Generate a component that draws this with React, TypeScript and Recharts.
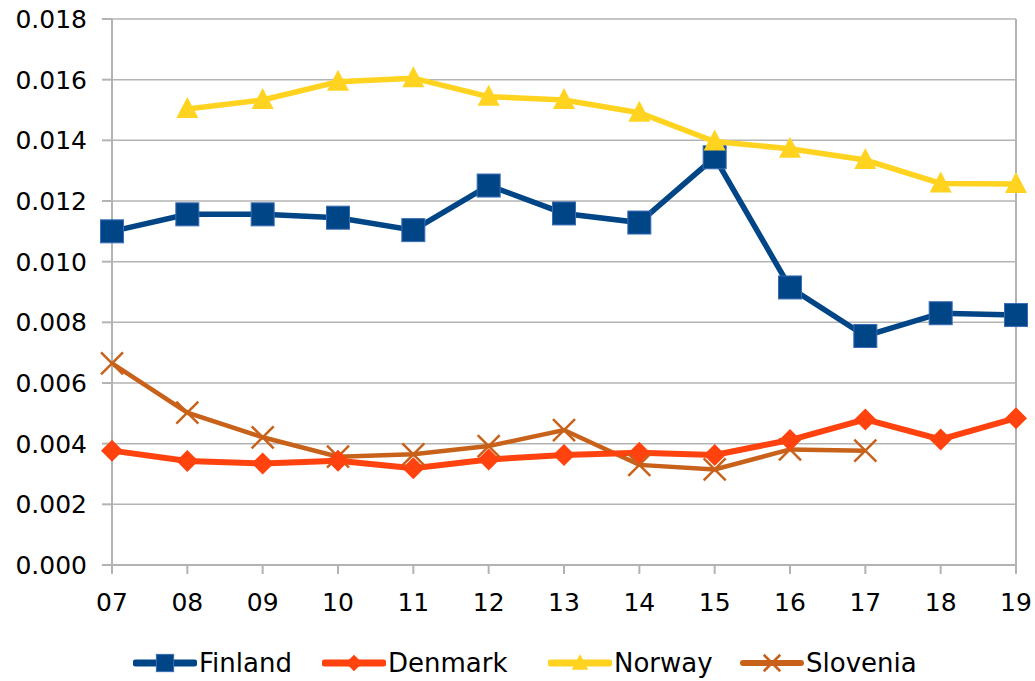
import React from "react";
import {
  LineChart,
  CartesianGrid,
  YAxis,
  XAxis,
  Legend,
  Line,
  ReferenceLine
} from "recharts";

const years = ["07", "08", "09", "10", "11", "12", "13", "14", "15", "16", "17", "18", "19"];
const finland = [0.0110, 0.01156, 0.01156, 0.01145, 0.01104, 0.01251, 0.01159, 0.01129, 0.01344, 0.00915, 0.00755, 0.0083, 0.00824];
const denmark = [0.00377, 0.00343, 0.00335, 0.00344, 0.00319, 0.00348, 0.00363, 0.0037, 0.00363, 0.00412, 0.0048, 0.00414, 0.00484];
const norway = [null, 0.01503, 0.01533, 0.01593, 0.01605, 0.01544, 0.01533, 0.01491, 0.01396, 0.01372, 0.01335, 0.01258, 0.01256];
const slovenia = [0.00665, 0.00502, 0.00421, 0.00357, 0.00365, 0.00392, 0.00445, 0.0033, 0.00315, 0.00381, 0.00377, null, null];
const yTicks = [0, 0.002, 0.004, 0.006, 0.008, 0.01, 0.012, 0.014, 0.016, 0.018];

const data = years.map((y, i) => ({
  year: y,
  finland: finland[i],
  denmark: denmark[i],
  norway: norway[i],
  slovenia: slovenia[i]
}));

const FONT = "'DejaVu Sans', sans-serif";
const GRID = "#b3b3b3";

const colors = {
  finland: "#004586",
  denmark: "#ff420e",
  norway: "#ffd320",
  slovenia: "#c8611a"
};

type Shape = "square" | "diamond" | "triangle" | "cross";

function marker(shape: Shape, cx: number, cy: number, color: string, s = 1) {
  if (shape === "square") {
    const h = 11.5 * s;
    return <rect x={cx - h} y={cy - h} width={h * 2} height={h * 2} fill={color} stroke="#3a6cb5" strokeWidth={1} />;
  }
  if (shape === "diamond") {
    const h = 11 * s;
    return <polygon points={`${cx},${cy - h} ${cx + h},${cy} ${cx},${cy + h} ${cx - h},${cy}`} fill={color} />;
  }
  if (shape === "triangle") {
    return (
      <polygon
        points={`${cx},${cy - 12 * s} ${cx + 11 * s},${cy + 9 * s} ${cx - 11 * s},${cy + 9 * s}`}
        fill={color}
      />
    );
  }
  const h = 11 * s;
  return (
    <g stroke={color} strokeWidth={2.5}>
      <line x1={cx - h} y1={cy - h} x2={cx + h} y2={cy + h} />
      <line x1={cx - h} y1={cy + h} x2={cx + h} y2={cy - h} />
    </g>
  );
}

const makeDot = (shape: Shape, color: string) => (props: any) => {
  const { cx, cy, index } = props;
  if (cx == null || cy == null || isNaN(cx) || isNaN(cy)) return <g key={`d-${shape}-${index}`} />;
  return <g key={`d-${shape}-${index}`}>{marker(shape, cx, cy, color)}</g>;
};

const legendItems: { name: string; color: string; shape: Shape; width: number; box: number }[] = [
  { name: "Finland", color: colors.finland, shape: "square", width: 5, box: 189 },
  { name: "Denmark", color: colors.denmark, shape: "diamond", width: 5, box: 226 },
  { name: "Norway", color: colors.norway, shape: "triangle", width: 5, box: 192 },
  { name: "Slovenia", color: colors.slovenia, shape: "cross", width: 4, box: 200 }
];

const renderLegend = () => (
  <div
    style={{
      height: 66,
      boxSizing: "border-box",
      paddingTop: 34,
      paddingLeft: 133,
      display: "flex",
      fontFamily: FONT,
      fontSize: 26,
      color: "#000"
    }}
  >
    {legendItems.map(item => (
      <div key={item.name} style={{ display: "flex", alignItems: "center", height: 28, width: item.box, flex: "none" }}>
        <svg width={64} height={28}>
          <line x1={3} y1={14} x2={61} y2={14} stroke={item.color} strokeWidth={item.width + 2} strokeLinecap="round" />
          {marker(item.shape, 32, 14, item.color, 0.75)}
        </svg>
        <span style={{ marginLeft: 2, lineHeight: "28px", whiteSpace: "nowrap" }}>{item.name}</span>
      </div>
    ))}
  </div>
);

function App() {
  return (
    <div style={{ position: "absolute", left: 0, top: 0, background: "#fff" }}>
      <LineChart
        width={1035}
        height={681}
        data={data}
        margin={{ top: 19, right: 19, left: 0, bottom: 0 }}
      >
        <CartesianGrid vertical={false} stroke={GRID} strokeWidth={1.5} />
        <XAxis
          dataKey="year"
          height={50}
          interval={0}
          padding={{ left: 0, right: 0 }}
          stroke={GRID}
          strokeWidth={2}
          tickSize={9}
          tickMargin={19}
          tick={{ fill: "#000", fontSize: 25, fontFamily: FONT }}
        />
        <YAxis
          width={112}
          domain={[0, 0.018]}
          ticks={yTicks}
          interval={0}
          stroke={GRID}
          strokeWidth={2}
          tickSize={10}
          tickMargin={15}
          tickFormatter={(v: number) => v.toFixed(3)}
          tick={{ fill: "#000", fontSize: 25, fontFamily: FONT }}
        />
        <ReferenceLine x="19" stroke={GRID} strokeWidth={2} />
        <Legend verticalAlign="bottom" height={66} content={renderLegend} />
        <Line
          dataKey="slovenia"
          name="Slovenia"
          stroke={colors.slovenia}
          strokeWidth={4.5}
          dot={makeDot("cross", colors.slovenia)}
          isAnimationActive={false}
        />
        <Line
          dataKey="denmark"
          name="Denmark"
          stroke={colors.denmark}
          strokeWidth={6}
          dot={makeDot("diamond", colors.denmark)}
          isAnimationActive={false}
        />
        <Line
          dataKey="finland"
          name="Finland"
          stroke={colors.finland}
          strokeWidth={5.5}
          dot={makeDot("square", colors.finland)}
          isAnimationActive={false}
        />
        <Line
          dataKey="norway"
          name="Norway"
          stroke={colors.norway}
          strokeWidth={5.5}
          dot={makeDot("triangle", colors.norway)}
          isAnimationActive={false}
        />
      </LineChart>
    </div>
  );
}

export default App;
